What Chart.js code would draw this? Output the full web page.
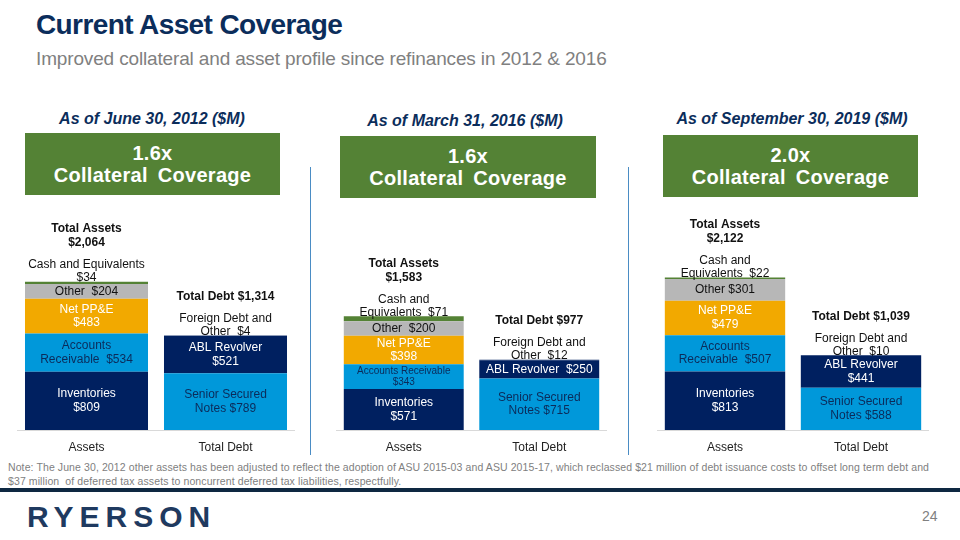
<!DOCTYPE html>
<html>
<head>
<meta charset="utf-8">
<script src="https://cdn.jsdelivr.net/npm/chart.js@4"></script>
<style>
  body { margin: 0; width: 960px; height: 540px; background: #fff; position: relative; overflow: hidden; font-family: "Liberation Sans", Arial, sans-serif; }
  .abs { position: absolute; }
  #title { left: 36px; top: 9px; font-size: 28px; font-weight: bold; color: #0B2D5B; letter-spacing: -0.6px; }
  #subtitle { left: 36px; top: 48px; font-size: 19px; color: #808080; letter-spacing: -0.15px; }
  .asof { top: 110px; width: 320px; text-align: center; font-size: 16px; font-weight: bold; font-style: italic; color: #0B2D5B; }
  .box { background: #548235; color: #fff; font-weight: bold; font-size: 20px; text-align: center; line-height: 22px; padding-top: 9px; box-sizing: border-box; height: 62px; width: 255px; letter-spacing: 0.3px; word-spacing: 4px; }
  .sep { width: 1px; background: #4A8CC4; top: 167px; height: 288px; }
  #note { left: 8px; top: 460px; font-size: 10.5px; color: #808080; line-height: 14px; letter-spacing: 0.1px; }
  #rule { left: 0; top: 488px; width: 960px; height: 4px; background: #0E2841; }
  #logo { left: 27px; top: 500px; font-size: 30px; font-weight: bold; color: #1F3A60; letter-spacing: 6px; }
  #page { left: 922px; top: 508px; font-size: 14px; color: #808080; }
  canvas { position: absolute; }
</style>
</head>
<body>
<div id="title" class="abs">Current Asset Coverage</div>
<div id="subtitle" class="abs">Improved collateral and asset profile since refinances in 2012 &amp; 2016</div>

<div class="abs asof" style="left:-8px">As of June 30, 2012 ($M)</div>
<div class="abs asof" style="left:305px;top:112px">As of March 31, 2016 ($M)</div>
<div class="abs asof" style="left:632px">As of September 30, 2019 ($M)</div>

<div id="box0" class="abs box" style="left:25px;top:133px"></div>
<div id="box1" class="abs box" style="left:340px;top:136px;width:256px"></div>
<div id="box2" class="abs box" style="left:663px;top:135px"></div>

<div class="abs sep" style="left:310px"></div>
<div class="abs sep" style="left:628px"></div>

<canvas id="c0" width="278" height="260" style="left:17px;top:200px"></canvas>
<canvas id="c1" width="271" height="260" style="left:336px;top:200px"></canvas>
<canvas id="c2" width="272" height="260" style="left:657px;top:200px"></canvas>

<div id="note" class="abs">Note: The June 30, 2012 other assets has been adjusted to reflect the adoption of ASU 2015-03 and ASU 2015-17, which reclassed $21 million of debt issuance costs to offset long term debt and<br>$37 million &nbsp;of deferred tax assets to noncurrent deferred tax liabilities, respectfully.</div>
<div id="rule" class="abs"></div>
<div id="logo" class="abs">RYERSON</div>
<div id="page" class="abs">24</div>

<script>
// Data, one entry per snapshot (2012, 2016, 2019), $M
const categories = ['Assets', 'Total Debt'];
const coverage = ['1.6x', '1.6x', '2.0x'];

const inventories = [809, 571, 813];
const receivables = [534, 343, 507];
const netPPE = [483, 398, 479];
const otherAssets = [204, 200, 301];
const cashEquiv = [34, 71, 22];

const seniorNotes = [789, 715, 588];
const ablRevolver = [521, 250, 441];
const foreignDebt = [4, 12, 10];

// label names per panel (value gets appended)
const assetNames = [
  ['Inventories\n', 'Accounts\nReceivable  ', 'Net PP&E\n', 'Other  ', 'Cash and Equivalents\n'],
  ['Inventories\n', 'Accounts Receivable\n', 'Net PP&E\n', 'Other  ', 'Cash and\nEquivalents  '],
  ['Inventories\n', 'Accounts\nReceivable  ', 'Net PP&E\n', 'Other ', 'Cash and\nEquivalents  ']
];
const debtNames = [
  ['Senior Secured\nNotes ', 'ABL Revolver\n', 'Foreign Debt and\nOther  '],
  ['Senior Secured\nNotes ', 'ABL Revolver  ', 'Foreign Debt and\nOther  '],
  ['Senior Secured\nNotes ', 'ABL Revolver\n', 'Foreign Debt and\nOther  ']
];
const totalNames = ['Total Assets\n', 'Total Debt '];

const NAVY = '#002060', BLUE = '#0098DA', GOLD = '#F2A900', GREY = '#B7B7B7', GREEN = '#548235';
const DARKTXT = '#0B2B5A';
const FONT = '"Liberation Sans", Arial, sans-serif';

// draws the labels in and above the stacked segments
const segLabels = {
  id: 'segLabels',
  afterDatasetsDraw(chart) {
    const ctx = chart.ctx;
    const tops = {}, outside = {}, totals = {};
    ctx.save();
    ctx.textAlign = 'center';
    ctx.textBaseline = 'middle';
    chart.data.datasets.forEach((ds, di) => {
      chart.getDatasetMeta(di).data.forEach((el, i) => {
        const v = ds.data[i];
        if (v == null) return;
        totals[i] = (totals[i] || 0) + v;
        if (tops[i] == null || el.y < tops[i].y) tops[i] = { x: el.x, y: el.y };
        const lines = (ds.names[i] + '$' + v).split('\n');
        const h = el.base - el.y;
        if (h < 12) { outside[i] = lines; return; }
        const fs = lines.length > 1 && h < 26 ? 10 : 12;
        const lh = fs + 1.5;
        ctx.font = fs + 'px ' + FONT;
        ctx.fillStyle = ds.textColor[i];
        const cy = (el.y + el.base) / 2 - (lines.length - 1) * lh / 2;
        lines.forEach((t, k) => ctx.fillText(t, el.x, cy + k * lh));
      });
    });
    Object.keys(tops).forEach(i => {
      const t = tops[i];
      let y = t.y - 4;
      ctx.fillStyle = '#111';
      ctx.font = '12px ' + FONT;
      const out = outside[i] || [];
      for (let k = out.length - 1; k >= 0; k--) {
        ctx.fillText(out[k], t.x, y);
        if (k > 0) y -= 13;
      }
      y -= 22;
      ctx.font = 'bold 12px ' + FONT;
      const tl = (totalNames[i] + '$' + totals[i].toLocaleString('en-US')).split('\n');
      for (let k = tl.length - 1; k >= 0; k--) {
        ctx.fillText(tl[k], t.x, y);
        y -= 14;
      }
    });
    ctx.restore();
  }
};

function seg(values, p, names, idx, cat, color, textColor) {
  const data = [null, null];
  data[cat] = values[p];
  const nm = ['', ''];
  nm[cat] = names[p][idx];
  const tc = ['', ''];
  tc[cat] = textColor;
  return { data, names: nm, textColor: tc, backgroundColor: color, borderWidth: 0 };
}

for (let p = 0; p < 3; p++) {
  document.getElementById('box' + p).innerHTML = coverage[p] + '<br>Collateral Coverage';
  const datasets = [
    seg(inventories, p, assetNames, 0, 0, NAVY, '#fff'),
    seg(receivables, p, assetNames, 1, 0, BLUE, DARKTXT),
    seg(netPPE, p, assetNames, 2, 0, GOLD, '#fff'),
    seg(otherAssets, p, assetNames, 3, 0, GREY, '#111'),
    seg(cashEquiv, p, assetNames, 4, 0, GREEN, '#111'),
    seg(seniorNotes, p, debtNames, 0, 1, BLUE, DARKTXT),
    seg(ablRevolver, p, debtNames, 1, 1, NAVY, '#fff'),
    seg(foreignDebt, p, debtNames, 2, 1, NAVY, '#111')
  ];
  new Chart(document.getElementById('c' + p), {
    type: 'bar',
    data: { labels: categories, datasets },
    options: {
      responsive: false,
      animation: false,
      layout: { padding: 0 },
      categoryPercentage: 1,
      barPercentage: 0.885,
      plugins: { legend: { display: false }, tooltip: { enabled: false } },
      scales: {
        x: {
          stacked: true,
          grid: { display: false, drawTicks: false },
          border: { color: '#D9D9D9', width: 1 },
          ticks: { color: '#222', padding: 10, font: { size: 12, family: FONT } },
          afterFit(s) { s.height = 30; }
        },
        y: { stacked: true, display: false, min: 0, max: 3200 }
      }
    },
    plugins: [segLabels]
  });
}
</script>
</body>
</html>
